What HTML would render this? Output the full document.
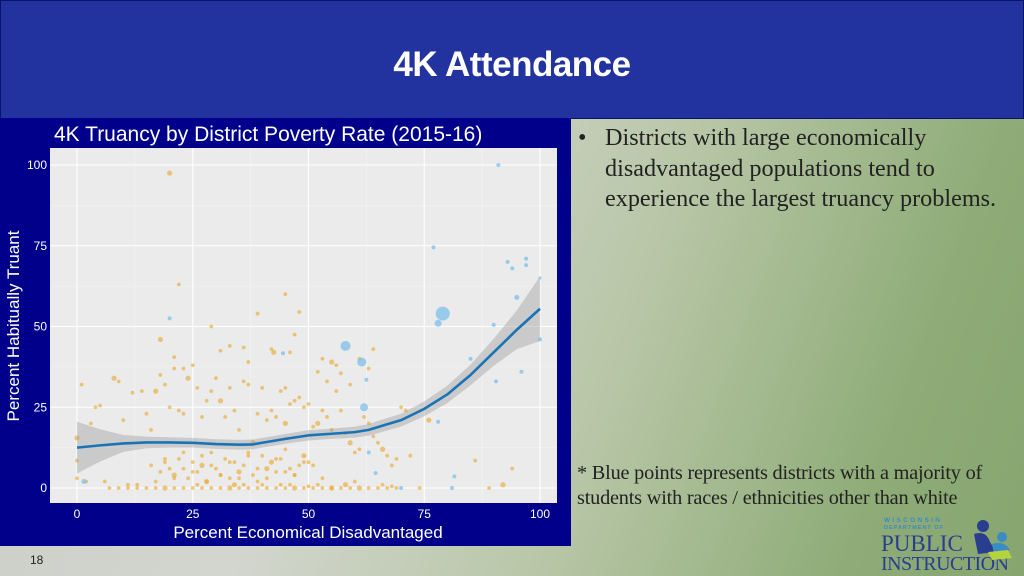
<!DOCTYPE html>
<html><head><meta charset="utf-8">
<style>
html,body{margin:0;padding:0}
body{width:1024px;height:576px;overflow:hidden;position:relative;font-family:"Liberation Sans",sans-serif;
background:linear-gradient(110deg,#c9ccc6 0%,#d3d6cf 35%,#b9c7a8 60%,#8fac78 85%,#86a56f 100%);}
#header{position:absolute;left:0;top:0;width:1022px;height:117px;background:#2233a0;border:1px solid #0a1466;}
#title{position:absolute;left:0;top:45px;width:1024px;text-align:center;color:#fff;font-weight:bold;font-size:35px;letter-spacing:-0.5px;font-family:"Liberation Sans",sans-serif;}
#chartbox{position:absolute;left:0;top:118px;width:571px;height:428px;background:#00008b;}
.txt{position:absolute;font-family:"Liberation Serif",serif;color:#222;}
#bullet{left:578px;top:123px;font-size:24.2px;line-height:30.5px;}
#bullet .b{position:absolute;left:0;top:0}
#bullet .t{margin-left:27px;width:440px}
#note{left:577px;top:461px;font-size:20.3px;line-height:25px;width:445px;letter-spacing:-0.2px}
#pagenum{position:absolute;left:30px;top:553px;font-size:12px;color:#222}
</style></head><body>
<div id="header"></div>
<div id="title">4K Attendance</div>
<div id="chartbox">
<svg id="chart" width="571" height="428"></svg>
</div>
<div class="txt" id="bullet"><span class="b">•</span><div class="t">Districts with large economically<br>disadvantaged populations tend to<br>experience the largest truancy problems.</div></div>
<div class="txt" id="note">* Blue points represents districts with a majority of<br>students with races / ethnicities other than white</div>
<div id="pagenum">18</div>
<svg style="position:absolute;left:878px;top:512px" width="146" height="62">
<text x="6" y="10" font-size="6.5" font-weight="bold" fill="#3b8bc4" letter-spacing="2.3" font-family="Liberation Sans">WISCONSIN</text>
<text x="6" y="17" font-size="5.5" font-weight="bold" fill="#3b8bc4" letter-spacing="1" font-family="Liberation Sans">DEPARTMENT OF</text>
<text x="3" y="39" font-size="23" fill="#2a3d8f" font-family="Liberation Serif">PUBLIC</text>
<text x="3" y="58" font-size="20" fill="#2a3d8f" font-family="Liberation Serif" textLength="128">INSTRUCTION</text>
<circle cx="105" cy="14" r="6" fill="#2a3d8f"/>
<path d="M96 22 Q108 18 112 30 L118 40 L100 42 Z" fill="#2a3d8f"/>
<circle cx="124" cy="25" r="5" fill="#3b8bc4"/>
<path d="M114 32 Q126 28 132 38 L116 42 Z" fill="#3b8bc4"/>
<path d="M110 40 L130 38 L134 46 L114 48 Z" fill="#b5d33d"/>
</svg>
<script>
const xTicks=[0,25,50,75,100];
const yTicks=[0,25,50,75,100];
const blueX=[91,77,93,94,97,97,95,79,78,90,100,58,61.5,62.5,62,85,96,90.5,78,81.5,81,70,64.5,44.5,20,1.5,100,63];
const blueY=[100,74.5,70,68,71,69,59,54,51,50.5,46,44,39,33.5,25,40,36,33,20.5,3.6,0,0,4.6,41.7,52.5,2,65,11];
const blueR=[2,2,2,2,2,2,2.5,7,3.5,2,2,5,4.5,2,4,2,2,2,2,2,2,2,2,2,2,2.5,1.5,2];
const orangeX=[20,22,45,48,29,39,47,18,21,46,23,31,33,42,42.5,36,37,45,52,54,53,55,56,57,59,61,63,64,8,9,12,5,4,3,1,0,0,0,10,14,15,16,17,18,19,20,21,22,23,24,25,26,27,28,29,30,31,32,33,34,35,36,37,38,39,40,41,42,43,44,45,46,47,48,49,50,51,52,53,54,55,56,57,58,59,60,61,62,63,64,65,66,67,68,69,70,71,72,76,86,94,16,18,19,20,21,22,23,24,25,26,27,28,29,30,31,32,33,34,35,36,37,38,39,40,41,42,43,44,45,46,47,48,49,50,17,19,21,23,25,27,29,31,33,35,37,39,41,43,45,47,49,51,53,55,7,9,11,13,15,17,19,21,23,25,27,29,31,33,35,37,39,41,43,45,47,49,51,53,55,57,59,61,63,65,67,69,74,89,92,2,6,11,13,26,28,34,36,40,44,46,50,52,58,60,66,68];
const orangeY=[97.5,63,60,54.5,50,54,47.5,46,40.5,42,37,42.5,44,43,42,43.5,39,31,36,33,40,39,38,35.5,32,40,37,43,34,33,29.5,25.5,25,20,32,15.5,8.5,3,21,30,23,18,30,35,32,25,37,24,23,34,38,31,22,27,30,34,27,22,31,24,18,33,32,14,23,31,21,24,22,30,20,26,27,28,25,26,19,20,24,22,18,30,24,17,14,11,12,22,20,16,14,12,10,7,9,25,24,10,21,8.5,6,7,5,8,6,4,9,11,3,8,5,10,2,7,6,4,9,3,8,5,7,11,4,6,10,3,8,5,9,12,6,4,7,10,8,2,9,3,6,5,7,11,4,8,3,10,2,6,9,5,4,8,7,3,0,0,0,0,0,0,0,0,0,0,0,0,0,0,0,0,0,0,0,0,0,0,0,0,0,0,0,0,0,0,0,0,0,0,0,1,2,2,1,1,1,2,1,1,1,1,1,0.5,1,1,2,1,0.5,1];
const fitX=[0,5,10,15,20,25,30,35,38,40,45,50,55,60,63,66,70,75,80,85,90,95,100];
const fitY=[12.5,13.2,13.8,14.1,14.1,14,13.6,13.4,13.5,14,15.2,16.3,16.8,17.3,18,19.3,21,24.5,29,35,42,49,55.5];
const fitSE=[8,5,2.6,1.8,1.6,1.5,1.5,1.5,1.5,1.5,1.5,1.6,1.6,1.7,1.8,1.9,2,2.3,2.7,3.2,4.2,6,10];

const svg=document.getElementById('chart');
const NS='http://www.w3.org/2000/svg';
const OY=118;
const sx=v=>77+v*4.63;
const sy=v=>488-OY-v*3.23;
function mk(tag,attrs,parent){const e=document.createElementNS(NS,tag);for(const k in attrs)e.setAttribute(k,attrs[k]);(parent||svg).appendChild(e);return e;}
const panel=mk('rect',{x:50,y:148-OY,width:507,height:355,fill:'#ebebeb'});


for(let i=0;i<4;i++){const m=(yTicks[i]+yTicks[i+1])/2;const g=mk('line',{x1:50,x2:557,y1:sy(m),y2:sy(m),stroke:'#f5f5f5','stroke-width':0.6});}
for(let i=0;i<4;i++){const m=(xTicks[i]+xTicks[i+1])/2;const g=mk('line',{y1:148-OY,y2:503-OY,x1:sx(m),x2:sx(m),stroke:'#f5f5f5','stroke-width':0.6});}
yTicks.forEach(t=>{
 const g=mk('line',{x1:50,x2:557,y1:sy(t),y2:sy(t),stroke:'#fff','stroke-width':1.1});
 
 
 const l=mk('text',{x:47,y:sy(t)+4,'text-anchor':'end','font-size':12,fill:'#fff'});l.textContent=t;
 
 
});
xTicks.forEach(t=>{
 const g=mk('line',{y1:148-OY,y2:503-OY,x1:sx(t),x2:sx(t),stroke:'#fff','stroke-width':1.1});
 
 
 const l=mk('text',{x:sx(t),y:518-OY,'text-anchor':'middle','font-size':12,fill:'#fff'});l.textContent=t;
 
 
});
const nO=Math.min(orangeX.length,orangeY.length);
for(let i=0;i<nO;i++){
 const c=mk('circle',{cx:sx(orangeX[i]),cy:sy(orangeY[i]),r:(i%7==0?2.6:1.9),fill:'#eaa72a','fill-opacity':0.6});
 
 
}
let up=fitX.map((x,i)=>sx(x)+','+sy(fitY[i]+fitSE[i]));
let dn=fitX.map((x,i)=>sx(x)+','+sy(fitY[i]-fitSE[i])).reverse();
const band=mk('polygon',{points:up.concat(dn).join(' '),fill:'#999','fill-opacity':0.4});


blueX.forEach((x,i)=>{
 const c=mk('circle',{cx:sx(x),cy:sy(blueY[i]),r:blueR[i],fill:'#7cc0ea','fill-opacity':0.75});
 
 
});
const line=mk('polyline',{points:fitX.map((x,i)=>sx(x)+','+sy(fitY[i])).join(' '),fill:'none',stroke:'#1a73b5','stroke-width':2.6,'stroke-linejoin':'round'});


const t=mk('text',{x:54,y:141-OY,'font-size':21,fill:'#fff'});t.textContent='4K Truancy by District Poverty Rate (2015-16)';


const xt=mk('text',{x:308,y:538-OY,'text-anchor':'middle','font-size':17,fill:'#fff'});xt.textContent='Percent Economical Disadvantaged';


const yt=mk('text',{x:0,y:0,'text-anchor':'middle','font-size':17,fill:'#fff',transform:'translate(19,'+(326-OY)+') rotate(-90)'});yt.textContent='Percent Habitually Truant';


</script>
</body></html>
